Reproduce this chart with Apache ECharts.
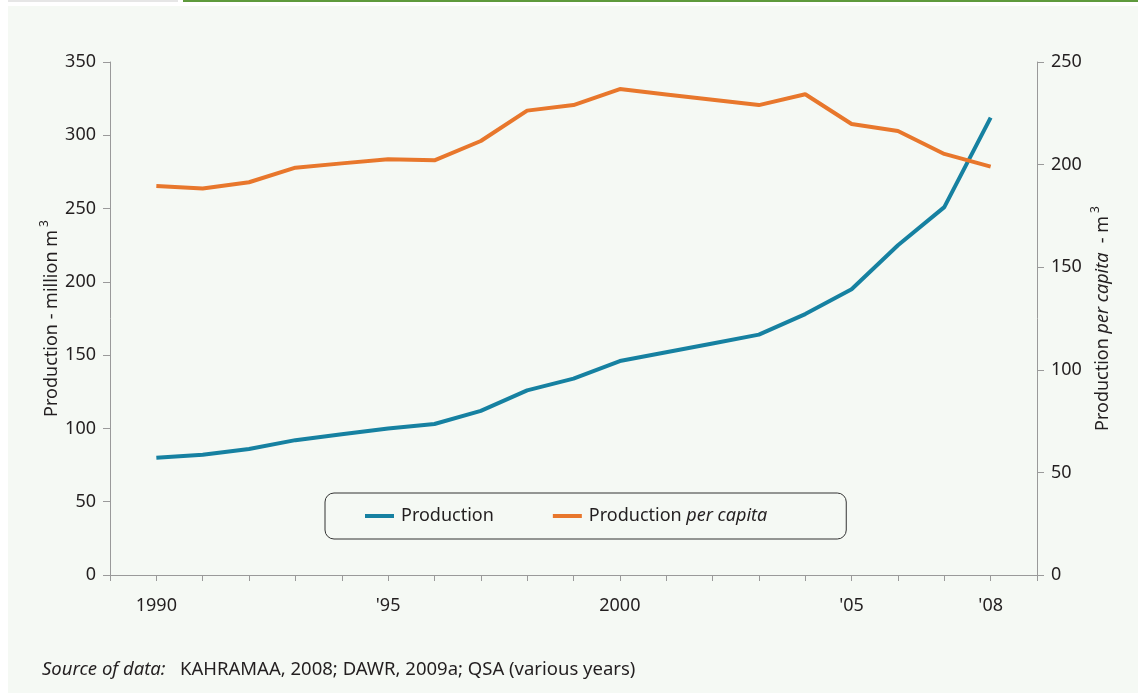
<!DOCTYPE html>
<html>
<head>
<meta charset="utf-8">
<script src="https://cdn.jsdelivr.net/npm/echarts@6/dist/echarts.min.js"></script>
<style>
  html, body { margin: 0; padding: 0; background: #ffffff; }
  #chart { width: 1138px; height: 693px; }
</style>
</head>
<body>
<div id="chart"></div>
<script>
const years = [1990, 1991, 1992, 1993, 1994, 1995, 1996, 1997, 1998, 1999, 2000, 2001, 2002, 2003, 2004, 2005, 2006, 2007, 2008];
const production = [80, 82, 86, 92, 96, 100, 103, 112, 126, 134, 146, 152, 158, 164, 178, 195, 225, 251, 312];
const perCapita = [189.6, 188.4, 191.4, 198.5, 200.6, 202.6, 202.1, 211.5, 226.3, 229, 236.8, 234.2, 231.6, 229, 234.3, 219.8, 216.4, 205.2, 199];
const xLabelYears = [1990, 1995, 2000, 2005, 2008];
const xLabelTexts = ['1990', "'95", '2000', "'05", "'08"];
const seriesNames = ['Production', 'Production per capita'];

const FONT = 'Noto Sans';
const TXT = '#231f20';
const AXIS = '#9a9a9a';

const chart = echarts.init(document.getElementById('chart'), null, { renderer: 'canvas' });

const option = {
  backgroundColor: 'transparent',
  animation: false,
  textStyle: { fontFamily: FONT, color: TXT },
  graphic: [
    { type: 'rect', silent: true, z: -10, shape: { x: 8, y: 6, width: 1130, height: 687 }, style: { fill: '#f5f9f4' } },
    { type: 'rect', silent: true, z: -10, shape: { x: 8, y: 0, width: 170, height: 2 }, style: { fill: '#e6e6e6' } },
    { type: 'rect', silent: true, z: -10, shape: { x: 183, y: 0, width: 955, height: 2 }, style: { fill: '#5e9a3c' } }
  ],
  title: {
    left: 42, top: 660, padding: 0,
    text: '{i|Source of data:}{n|   KAHRAMAA, 2008; DAWR, 2009a; QSA (various years)}',
    textStyle: {
      fontWeight: 'normal',
      rich: {
        i: { fontFamily: FONT, fontSize: 18.5, fontStyle: 'italic', fontWeight: 'normal', color: TXT },
        n: { fontFamily: FONT, fontSize: 18.5, fontWeight: 'normal', color: TXT }
      }
    }
  },
  legend: {
    left: 325, top: 493,
    padding: [14, 79, 14, 40],
    borderColor: '#333333', borderWidth: 1, borderRadius: 9,
    itemGap: 59, itemWidth: 29, itemHeight: 4,
    icon: 'rect',
    data: seriesNames,
    formatter: function (name) {
      return name === 'Production per capita' ? '{n|Production }{i|per capita}' : '{n|' + name + '}';
    },
    textStyle: {
      padding: [0, 0, 0, 2],
      rich: {
        n: { fontFamily: FONT, fontSize: 18, color: TXT },
        i: { fontFamily: FONT, fontSize: 18, fontStyle: 'italic', color: TXT }
      }
    }
  },
  grid: { left: 110, right: 101, top: 62, bottom: 118, containLabel: false },
  xAxis: {
    type: 'value', min: 1989, max: 2009, interval: 1,
    axisLine: { lineStyle: { color: AXIS, width: 1 } },
    axisTick: { length: 6, lineStyle: { color: AXIS } },
    splitLine: { show: false },
    axisLabel: {
      margin: 22, fontSize: 18, fontFamily: FONT, color: TXT,
      showMinLabel: true, showMaxLabel: true,
      formatter: function (v) {
        const k = xLabelYears.indexOf(Math.round(v));
        return k >= 0 ? xLabelTexts[k] : '';
      }
    }
  },
  yAxis: [
    {
      type: 'value', min: 0, max: 350, interval: 50, position: 'left',
      name: '{n|Production - million m}{s|3}',
      nameLocation: 'middle', nameGap: 45, nameMoveOverlap: false,
      nameTextStyle: {
        rich: {
          n: { fontFamily: FONT, fontSize: 18, color: TXT, lineHeight: 26 },
          s: { fontFamily: FONT, fontSize: 12, color: TXT, verticalAlign: 'top', lineHeight: 12, padding: [0, 0, 0, 3] }
        }
      },
      axisLine: { show: true, lineStyle: { color: AXIS, width: 1 } },
      axisTick: { show: true, length: 7, lineStyle: { color: AXIS } },
      splitLine: { show: false },
      axisLabel: { margin: 14, fontSize: 18, fontFamily: FONT, color: TXT }
    },
    {
      type: 'value', min: 0, max: 250, interval: 50, position: 'right',
      name: '{n|Production }{i|per capita}{n|  - m}{s|3}',
      nameLocation: 'middle', nameGap: 53, nameMoveOverlap: false,
      nameTextStyle: {
        rich: {
          n: { fontFamily: FONT, fontSize: 18, color: TXT, lineHeight: 26 },
          i: { fontFamily: FONT, fontSize: 18, color: TXT, fontStyle: 'italic', lineHeight: 26 },
          s: { fontFamily: FONT, fontSize: 12, color: TXT, verticalAlign: 'top', lineHeight: 12, padding: [0, 0, 0, 3] }
        }
      },
      axisLine: { show: true, lineStyle: { color: AXIS, width: 1 } },
      axisTick: { show: true, length: 7, lineStyle: { color: AXIS } },
      splitLine: { show: false },
      axisLabel: { margin: 14, fontSize: 18, fontFamily: FONT, color: TXT }
    }
  ],
  series: [
    {
      name: seriesNames[0], type: 'line', yAxisIndex: 0,
      data: years.map(function (y, i) { return [y, production[i]]; }),
      showSymbol: false, symbol: 'none',
      lineStyle: { color: '#1681a1', width: 4 },
      itemStyle: { color: '#1681a1' }
    },
    {
      name: seriesNames[1], type: 'line', yAxisIndex: 1,
      data: years.map(function (y, i) { return [y, perCapita[i]]; }),
      showSymbol: false, symbol: 'none',
      lineStyle: { color: '#e8772c', width: 4 },
      itemStyle: { color: '#e8772c' }
    }
  ]
};

chart.setOption(option);
</script>
</body>
</html>
